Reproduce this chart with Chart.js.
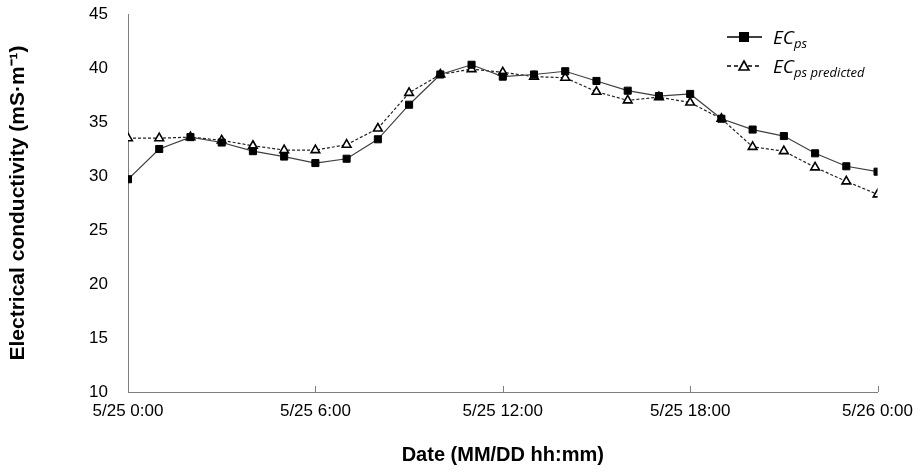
<!DOCTYPE html>
<html>
<head>
<meta charset="utf-8">
<script src="https://cdn.jsdelivr.net/npm/chart.js@4/dist/chart.umd.min.js"></script>
<style>
  html, body { margin: 0; padding: 0; background: #fff; }
  #wrap { position: relative; width: 922px; height: 472px; }
</style>
</head>
<body>
<div id="wrap"><canvas id="chart" width="922" height="472"></canvas></div>
<script>
// hours since 5/25 0:00
const hours = [0,1,2,3,4,5,6,7,8,9,10,11,12,13,14,15,16,17,18,19,20,21,22,23,24];
const ecMeasured = [29.7,32.5,33.6,33.1,32.3,31.8,31.2,31.6,33.4,36.6,39.4,40.3,39.2,39.4,39.7,38.8,37.9,37.4,37.6,35.3,34.3,33.7,32.1,30.9,30.4];
const ecPredicted = [33.5,33.5,33.6,33.3,32.8,32.4,32.4,32.9,34.4,37.7,39.4,39.9,39.6,39.2,39.1,37.8,37.0,37.3,36.8,35.3,32.7,32.3,30.8,29.5,28.3];
const xTickHours = [0,6,12,18,24];
const xTickLabels = ['5/25 0:00','5/25 6:00','5/25 12:00','5/25 18:00','5/26 0:00'];

const FONT = '"Liberation Sans", Arial, sans-serif';

// small tick marks pointing up into the plot on the x axis
const innerTicks = {
  id: 'innerTicks',
  afterDatasetsDraw(chart) {
    const { ctx, scales: { x } } = chart;
    ctx.save();
    ctx.strokeStyle = '#7f7f7f';
    ctx.lineWidth = 1;
    for (const h of xTickHours) {
      const px = Math.round(x.getPixelForValue(h)) + 0.5;
      ctx.beginPath();
      ctx.moveTo(px, x.top);
      ctx.lineTo(px, x.top - 6);
      ctx.stroke();
    }
    ctx.restore();
  }
};

// legend with subscripts
const subLegend = {
  id: 'subLegend',
  afterDraw(chart) {
    const ctx = chart.ctx;
    const items = [
      { sub: 'ps', dash: [], marker: 'square', y: 37 },
      { sub: 'ps predicted', dash: [4, 3], marker: 'tri', y: 66 }
    ];
    ctx.save();
    for (const it of items) {
      ctx.strokeStyle = '#000';
      ctx.lineWidth = 1.3;
      ctx.setLineDash(it.dash);
      ctx.beginPath();
      ctx.moveTo(727, it.y);
      ctx.lineTo(762, it.y);
      ctx.stroke();
      ctx.setLineDash([]);
      if (it.marker === 'square') {
        ctx.fillStyle = '#000';
        ctx.fillRect(739, it.y - 5, 10, 10);
      } else {
        ctx.fillStyle = '#fff';
        ctx.lineWidth = 1.6;
        ctx.beginPath();
        ctx.moveTo(744, it.y - 5);
        ctx.lineTo(749, it.y + 4);
        ctx.lineTo(739, it.y + 4);
        ctx.closePath();
        ctx.fill();
        ctx.stroke();
      }
      ctx.fillStyle = '#000';
      ctx.textBaseline = 'alphabetic';
      ctx.font = 'italic 19px "Open Sans", ' + FONT;
      ctx.fillText('EC', 773, it.y + 7);
      const w = ctx.measureText('EC').width;
      ctx.font = 'italic 13px "Open Sans", ' + FONT;
      ctx.fillText(it.sub, 773 + w, it.y + 11);
    }
    ctx.restore();
  }
};

new Chart(document.getElementById('chart').getContext('2d'), {
  type: 'line',
  data: {
    datasets: [
      {
        label: 'ECps',
        data: hours.map((h, i) => ({ x: h, y: ecMeasured[i] })),
        borderColor: '#404040',
        borderWidth: 1.2,
        pointStyle: 'rect',
        pointRadius: 5,
        pointBackgroundColor: '#000',
        pointBorderColor: '#000',
        pointBorderWidth: 1,
        tension: 0
      },
      {
        label: 'ECps predicted',
        data: hours.map((h, i) => ({ x: h, y: ecPredicted[i] })),
        borderColor: '#222',
        borderWidth: 1.2,
        borderDash: [3, 2],
        pointStyle: 'triangle',
        pointRadius: 5,
        pointBackgroundColor: '#fff',
        pointBorderColor: '#000',
        pointBorderWidth: 1.6,
        tension: 0
      }
    ]
  },
  options: {
    responsive: false,
    animation: false,
    layout: { padding: { left: 0, right: 43, top: 14, bottom: 0 } },
    plugins: { legend: { display: false }, tooltip: { enabled: false } },
    scales: {
      x: {
        type: 'linear',
        min: 0,
        max: 24,
        afterBuildTicks: s => { s.ticks = xTickHours.map(v => ({ value: v })); },
        afterFit: s => { s.height = 80; },
        ticks: {
          autoSkip: false,
          maxRotation: 0,
          padding: 9,
          color: '#000',
          font: { family: FONT, size: 17 },
          callback: v => xTickLabels[xTickHours.indexOf(v)]
        },
        grid: { display: false, drawTicks: false },
        border: { color: '#7f7f7f', width: 1 },
        title: {
          display: true,
          text: 'Date (MM/DD hh:mm)',
          color: '#000',
          font: { family: FONT, size: 20, weight: 'bold' },
          padding: { top: 6, bottom: 5 }
        }
      },
      y: {
        min: 10,
        max: 45,
        afterFit: s => { s.width = 128; s.paddingTop = 0; s.paddingBottom = 0; },
        ticks: {
          stepSize: 5,
          padding: 20,
          color: '#000',
          font: { family: FONT, size: 17 }
        },
        grid: { display: false, drawTicks: false },
        border: { color: '#7f7f7f', width: 1 },
        title: {
          display: true,
          text: 'Electrical conductivity (mS·m⁻¹)',
          color: '#000',
          font: { family: FONT, size: 21, weight: 'bold' },
          padding: { top: 6, bottom: 0 }
        }
      }
    }
  },
  plugins: [innerTicks, subLegend]
});
</script>
</body>
</html>
